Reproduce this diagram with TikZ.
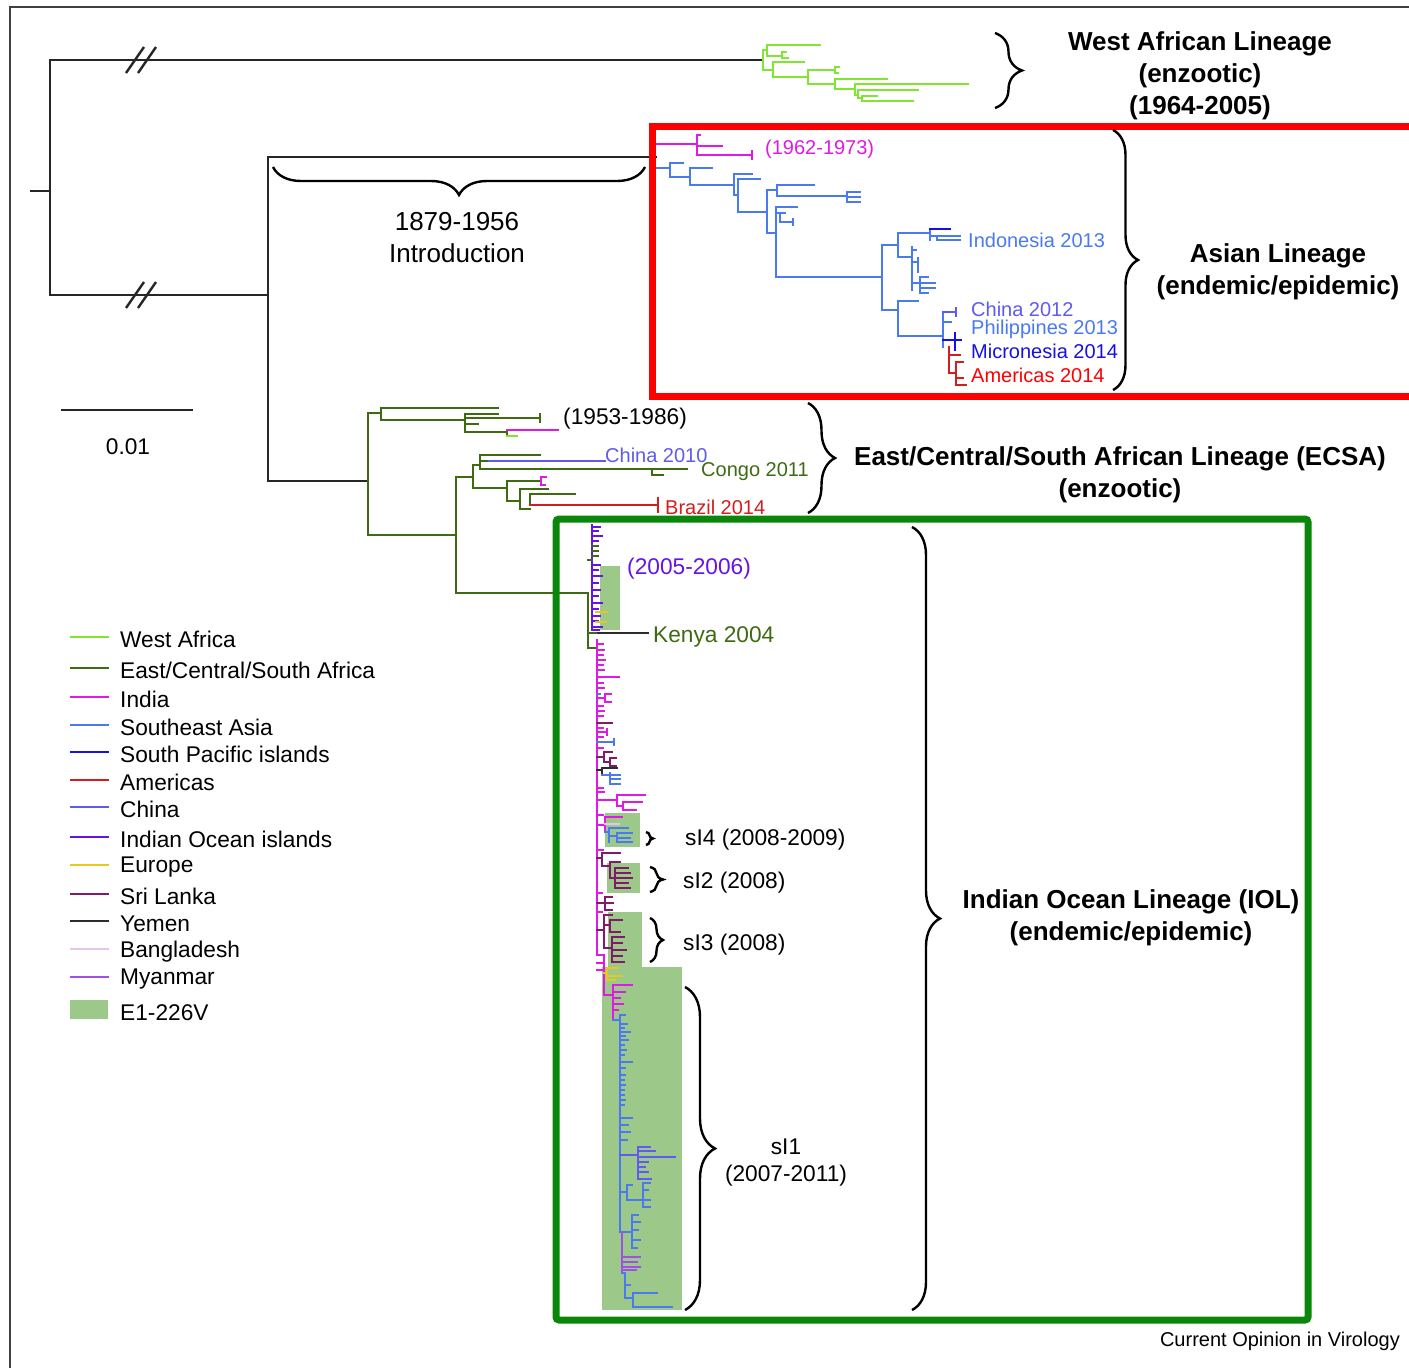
\documentclass[tikz,border=0pt]{standalone}
\usepackage{fontspec}
\setmainfont{Liberation Sans}
\usetikzlibrary{decorations.pathreplacing}
\definecolor{cWA}{RGB}{128,230,50}
\definecolor{cEC}{RGB}{62,107,18}
\definecolor{cIN}{RGB}{225,25,230}
\definecolor{cSA}{RGB}{74,122,240}
\definecolor{cSP}{RGB}{20,16,230}
\definecolor{cAM}{RGB}{210,30,30}
\definecolor{cCH}{RGB}{95,90,240}
\definecolor{cIO}{RGB}{100,20,230}
\definecolor{cEU}{RGB}{230,200,30}
\definecolor{cSL}{RGB}{128,26,106}
\definecolor{cYE}{RGB}{45,45,45}
\definecolor{cBD}{RGB}{230,200,230}
\definecolor{cMY}{RGB}{160,80,230}
\definecolor{cE1}{RGB}{156,200,138}
\definecolor{cRB}{RGB}{255,0,0}
\definecolor{cGB}{RGB}{10,135,10}
\tikzset{
  tr/.style={line width=2.6pt,line cap=rect},
  blk/.style={tr,draw=black!85},
  brc/.style={decorate,decoration={brace,amplitude=#1},line width=2.4pt,black},
  lab/.style={inner sep=0pt,anchor=west,yshift=-2.5pt,font=\fontsize{20}{24}\selectfont},
  labL/.style={inner sep=0pt,anchor=west,yshift=-2.5pt,font=\fontsize{22.7}{27}\selectfont},
  ttl/.style={inner sep=0pt,align=center,yshift=-3pt,font=\bfseries\fontsize{26}{32}\selectfont},
  ttr/.style={inner sep=0pt,align=center,yshift=-2pt,font=\fontsize{26}{32}\selectfont},
  legline/.style={line width=2.2pt},
}
\begin{document}
\begin{tikzpicture}[x=1pt,y=-1pt]
\useasboundingbox (0,0) rectangle (1409,1368);
\fill[white] (0,0) rectangle (1409,1368);
% outer frame
\draw[line width=1.4pt,black!75] (10,1368) -- (10,7) -- (1409,7);

% E1-226V highlight boxes
\fill[cE1] (600,566) rectangle (620,630);
\fill[cE1] (605,813) rectangle (640,847);
\fill[cE1] (607,863) rectangle (640,893);
\fill[cE1] (608,912) rectangle (642,967);
\fill[cE1] (602,967) rectangle (682,1310);

% ---------- backbone (black)
\draw[blk] (31,191) -- (50,191);
\draw[blk] (763,60) -- (50,60) -- (50,295) -- (268,295);
\draw[blk] (656,157) -- (268,157) -- (268,481) -- (368,481);
% double slashes
\foreach \yy in {60,295}{
  \draw[line width=2.4pt,black!85] (126,\yy+13) -- (144,\yy-13);
  \draw[line width=2.4pt,black!85] (138,\yy+13) -- (156,\yy-13);
}
% scale bar
\draw[blk] (62,410) -- (192,410);
\node[labL,anchor=center] (scl) at (128,444) {0.01};

% ---------- West African lineage
\begin{scope}[tr,cWA]
\draw (763,50) -- (763,70);
\draw (763,50) -- (767,50); \draw (767,45) -- (767,56);
\draw (767,45) -- (820,45); \draw (767,56) -- (782,56);
\draw (782,52) -- (782,58); \draw (782,52) -- (786,52); \draw (782,58) -- (788,58);
\draw (763,70) -- (773,70); \draw (773,62) -- (773,77);
\draw (773,62) -- (804,62); \draw (773,77) -- (808,77);
\draw (808,70) -- (808,84); \draw (808,70) -- (835,70);
\draw (835,67) -- (835,73); \draw (835,67) -- (839,67); \draw (835,73) -- (838,73);
\draw (808,84) -- (835,84); \draw (835,79) -- (835,89);
\draw (835,79) -- (887,79); \draw (835,89) -- (855,89);
\draw (855,84) -- (855,95); \draw (855,84) -- (968,84);
\draw (855,95) -- (858,95); \draw (858,90) -- (858,98);
\draw (858,90) -- (918,90); \draw (858,98) -- (862,98);
\draw (862,96) -- (862,101); \draw (862,96) -- (877,96); \draw (862,101) -- (913,101);
\end{scope}

% ---------- Asian lineage
\begin{scope}[tr,cIN]
\draw (655,144) -- (697,144); \draw (697,135) -- (697,155);
\draw (697,135) -- (700,135);
\draw (697,146) -- (722,146); \draw (697,155) -- (752,155);
\draw (752,151) -- (752,159);
\end{scope}
\begin{scope}[tr,cSA]
\draw (655,168) -- (670,168); \draw (670,163) -- (670,177);
\draw (670,163) -- (683,163); \draw (670,177) -- (690,177);
\draw (690,168) -- (690,185); \draw (690,168) -- (712,168);
\draw (690,185) -- (734,185); \draw (734,174) -- (734,195);
\draw (734,174) -- (752,174); \draw (734,195) -- (738,195);
\draw (738,179) -- (738,212); \draw (738,179) -- (760,179);
\draw (738,212) -- (767,212); \draw (767,190) -- (767,233);
\draw (767,190) -- (777,190); \draw (777,185) -- (777,196);
\draw (777,185) -- (814,185); \draw (777,196) -- (847,196);
\draw (847,192) -- (847,202);
\draw (847,192) -- (860,192); \draw (847,197) -- (860,197); \draw (847,202) -- (860,202);
\draw (767,233) -- (776,233); \draw (776,207) -- (776,277);
\draw (776,207) -- (797,207); \draw (776,213) -- (780,213);
\draw (780,213) -- (780,222); \draw (780,213) -- (785,213);
\draw (780,222) -- (793,222); \draw (793,219) -- (793,225);
\draw (776,277) -- (882,277);
\draw (882,245) -- (882,310); \draw (882,245) -- (898,245);
\draw (898,233) -- (898,257); \draw (898,233) -- (930,233);
\draw (930,229) -- (930,240);
\draw (930,236) -- (937,236); \draw (937,236) -- (937,240);
\draw (937,236) -- (960,236); \draw (937,240) -- (960,240);
\draw (898,257) -- (912,257); \draw (912,247) -- (912,290);
\draw (912,250) -- (916,250); \draw (912,262) -- (918,262);
\draw (918,258) -- (918,272);
\draw (912,283) -- (920,283); \draw (920,277) -- (920,293);
\draw (920,277) -- (928,277); \draw (920,283) -- (935,283);
\draw (920,288) -- (935,288); \draw (920,293) -- (928,293);
\draw (882,310) -- (898,310); \draw (898,301) -- (898,336);
\draw (898,301) -- (918,301); \draw (898,336) -- (943,336);
\draw (943,312) -- (943,347);
\draw (943,322) -- (951,322);
\end{scope}
\begin{scope}[tr,cSP]
\draw (930,229) -- (950,229);
\draw (943,340) -- (955,340); \draw (955,333) -- (955,350); \draw (955,340) -- (961,340);
\end{scope}
\begin{scope}[tr,cCH]
\draw (943,312) -- (956,312); \draw (956,308) -- (956,316);
\end{scope}
\begin{scope}[tr,cAM]
\draw (949,347) -- (949,373); \draw (949,355) -- (960,355);
\draw (949,373) -- (956,373); \draw (956,362) -- (956,385);
\draw (956,362) -- (963,362); \draw (956,378) -- (963,378); \draw (956,385) -- (966,385);
\end{scope}

% ---------- ECSA lineage
\begin{scope}[tr,cEC]
\draw (368,413) -- (368,535);
\draw (368,413) -- (381,413); \draw (381,408) -- (381,420);
\draw (381,408) -- (498,408); \draw (381,420) -- (465,420);
\draw (465,414) -- (465,432); \draw (465,414) -- (498,414);
\draw (465,418) -- (540,418); \draw (540,414) -- (540,422);
\draw (465,424) -- (478,424); \draw (465,432) -- (507,432);
\draw (507,430) -- (507,436);
\draw (368,535) -- (456,535); \draw (456,477) -- (456,593);
\draw (456,477) -- (473,477); \draw (473,465) -- (473,488);
\draw (473,465) -- (480,465); \draw (480,455) -- (480,469);
\draw (480,455) -- (540,455); \draw (480,461) -- (489,461);
\draw (480,469) -- (687,469); \draw (652,469) -- (652,475); \draw (652,475) -- (663,475);
\draw (473,488) -- (507,488); \draw (507,481) -- (507,501);
\draw (507,481) -- (541,481);
\draw (507,501) -- (520,501); \draw (520,489) -- (520,509);
\draw (520,489) -- (548,489); \draw (520,509) -- (530,509);
\draw (530,494) -- (530,505); \draw (530,494) -- (575,494);
\draw (456,593) -- (588,593);
\end{scope}
\draw[tr,cIN] (507,430) -- (558,430);
\draw[tr,cWA] (507,436) -- (517,436);
\draw[tr,cCH] (489,461) -- (605,461);
\draw[tr,cIN] (541,477) -- (541,485) (541,477) -- (546,477) (541,485) -- (545,485);
\draw[tr,cAM] (530,505) -- (658,505) (658,498) -- (658,512);

% ---------- Indian Ocean lineage
% top (Indian Ocean islands)
\draw[tr,cIO] (592,525) -- (592,630);
\foreach \yy/\xx in {527/600,531/598,536/602,541/598,565/600,570/598,576/602,583/598,590/600,596/598,603/602,609/598,616/600,621/598,627/602,630/599}
  \draw[tr,cIO] (592,\yy) -- (\xx,\yy);
\foreach \yy in {546,551,556}
  \draw[tr,cEC] (592,\yy) -- (598,\yy);
\draw[tr,cEU] (596,612) -- (607,612) (596,622) -- (606,622);
\draw[tr,cEC] (588,593) -- (588,648) (588,633) -- (598,633) (588,648) -- (597,648);
\draw[tr,cEC] (588,560) -- (592,560);
\draw[tr,cYE] (598,633) -- (648,633);

% India main stem
\draw[tr,cIN] (597,640) -- (597,955) -- (604,955) -- (604,995) -- (613,995);
\foreach \yy/\xx in {644/603,650/604,655/603,660/605,665/603,670/604,677/619,683/603,688/604,706/603,711/604,716/603,728/603,737/603,748/603,788/603,792/604,815/603,850/603,893/602,912/602,963/603,970/602}
  \draw[tr,cIN] (597,\yy) -- (\xx,\yy);
\draw[tr,cIN] (597,698) -- (605,698) (605,694) -- (605,702) (605,694) -- (611,694) (605,702) -- (611,702);
\draw[tr,cSL] (597,723) -- (612,723);
\draw[tr,cIN] (597,732) -- (607,732) (607,729) -- (607,735);
\draw[tr,cSA] (597,742) -- (614,742) (614,739) -- (614,745);
\draw[tr,cSA] (598,694) -- (600,694);
\draw[tr,cSL] (597,757) -- (604,757) (604,752) -- (604,762) (604,752) -- (612,752) (604,762) -- (610,762) (610,758) -- (610,766) (610,758) -- (616,758) (610,766) -- (616,766);
\draw[tr,cYE] (597,770) -- (602,770) (602,768) -- (602,775) (602,768) -- (617,768);
\draw[tr,cSA] (602,775) -- (620,775) (610,773) -- (610,784) (610,779) -- (620,779) (610,784) -- (620,784);
% branch ~800
\draw[tr,cIN] (597,800) -- (617,800) (617,795) -- (617,806) (617,795) -- (645,795) (617,806) -- (623,806) (623,802) -- (623,810) (623,802) -- (642,802) (623,810) -- (636,810);
% sI4
\draw[tr,cIN] (597,825) -- (605,825) (605,817) -- (605,832) (605,817) -- (622,817);
\draw[tr,cBD] (605,824) -- (619,824);
\draw[tr,cSA] (605,832) -- (609,832) (609,828) -- (609,842) (609,828) -- (628,828) (609,836) -- (617,836) (617,833) -- (617,842) (617,833) -- (632,833) (617,838) -- (630,838) (617,842) -- (632,842);
% sI2
\draw[tr,cSL] (597,858) -- (602,858) (602,853) -- (602,866) (602,853) -- (620,853) (602,866) -- (610,866) (610,862) -- (610,878) (610,862) -- (620,862) (610,878) -- (615,878) (615,868) -- (615,888);
\foreach \yy/\xx in {868/628,873/630,878/632,883/628,888/630}
  \draw[tr,cSL] (615,\yy) -- (\xx,\yy);
\draw[tr,cSL] (597,903) -- (605,903) (605,897) -- (605,910) (605,897) -- (612,897) (605,903) -- (613,903) (605,910) -- (612,910);
% sI3
\draw[tr,cSL] (597,930) -- (604,930) (604,915) -- (604,948) (604,915) -- (612,915) (604,925) -- (610,925) (610,920) -- (610,932) (610,920) -- (622,920) (610,932) -- (620,932) (604,948) -- (612,948) (612,937) -- (612,962);
\foreach \yy/\xx in {937/624,943/622,950/626,956/622,962/624}
  \draw[tr,cSL] (612,\yy) -- (\xx,\yy);
% Europe near sI1
\draw[tr,cEU] (604,973) -- (607,973) (607,968) -- (607,980) (607,968) -- (618,968) (607,976) -- (622,976) (607,980) -- (615,980);
% India node sI1 top
\draw[tr,cIN] (613,985) -- (613,1020) (613,985) -- (632,985) (613,992) -- (625,992) (613,998) -- (620,998) (613,1004) -- (623,1004) (613,1010) -- (618,1010);
% Southeast Asia stem
\draw[tr,cSA] (613,1020) -- (620,1020) (620,1015) -- (620,1232);
\foreach \yy/\xx in {1015/625,1024/627,1028/624,1032/630,1036/625,1040/628,1045/624,1050/626,1055/624,1062/632,1068/625,1075/625,1080/624,1085/625,1090/624,1095/624,1100/625,1105/624,1118/632,1125/628,1132/630,1140/627}
  \draw[tr,cSA] (620,\yy) -- (\xx,\yy);
\draw[tr,cCH] (620,1155) -- (638,1155) (638,1147) -- (638,1179);
\foreach \yy/\xx in {1147/650,1151/655,1157/675,1162/648,1167/645,1172/648,1179/651}
  \draw[tr,cCH] (638,\yy) -- (\xx,\yy);
\draw[tr,cSA] (620,1192) -- (627,1192) (627,1185) -- (627,1200) (627,1185) -- (632,1185) (627,1200) -- (643,1200) (643,1183) -- (643,1207);
\foreach \yy/\xx in {1183/650,1190/648,1200/650,1207/650}
  \draw[tr,cSA] (643,\yy) -- (\xx,\yy);
\draw[tr,cSA] (620,1232) -- (632,1232) (632,1215) -- (632,1248);
\foreach \yy/\xx in {1215/638,1222/640,1230/638,1240/640,1248/637}
  \draw[tr,cSA] (632,\yy) -- (\xx,\yy);
\draw[tr,cMY] (622,1232) -- (622,1273);
\foreach \yy/\xx in {1257/640,1262/637,1267/640,1270/636}
  \draw[tr,cMY] (622,\yy) -- (\xx,\yy);
\draw[tr,cSA] (622,1273) -- (625,1273) (625,1273) -- (625,1298) (625,1285) -- (630,1285) (625,1298) -- (633,1298) (633,1293) -- (633,1307) (633,1293) -- (657,1293) (633,1307) -- (672,1307);

% ---------- lineage boxes
\draw[cRB,line width=7pt] (652,126) rectangle (1425,396);
\draw[cGB,line width=7pt,rounded corners=3pt] (556,519) rectangle (1308,1320);

% ---------- braces
\draw[brc=27pt] (995,33) -- (995,108);
\draw[brc=25pt] (1113,130) -- (1113,390);
\draw[brc=27pt] (808,403) -- (808,513);
\draw[brc=28pt] (912,527) -- (912,1310);
\draw[brc=28pt] (645,167) -- (273,167);
\draw[brc=7pt] (646,832) -- (646,845);
\draw[brc=13pt] (650,867) -- (650,892);
\draw[brc=13pt] (650,918) -- (650,962);
\draw[brc=30pt] (685,987) -- (685,1310);

% ---------- labels
\node[ttl] (twa) at (1200,73) {West African Lineage\\(enzootic)\\(1964-2005)};
\node[ttl] (tas) at (1278,269) {Asian Lineage\\(endemic/epidemic)};
\node[ttl] (tec) at (1120,471.5) {East/Central/South African Lineage (ECSA)\\(enzootic)};
\node[ttl] (tio) at (1131,915) {Indian Ocean Lineage (IOL)\\(endemic/epidemic)};
\node[ttr] (intro) at (457,236) {1879-1956\\Introduction};

\node[lab,text=cIN] (l62) at (765,147) {(1962-1973)};
\node[lab,text=cSA] (lind) at (968,238) {Indonesia 2013};
\node[lab,text=cCH] (lch12) at (971,307) {China 2012};
\node[lab,text=cSA] (lphi) at (971,327) {Philippines 2013};
\node[lab,text=cSP] (lmic) at (971,349) {Micronesia 2014};
\node[lab,text=cRB] (lam) at (971,373) {Americas 2014};
\node[labL] (l53) at (563,416) {(1953-1986)};
\node[lab,text=cCH] (lch10) at (605,453) {China 2010};
\node[lab,text=cEC] (lcon) at (701,469) {Congo 2011};
\node[lab,text=cAM] (lbra) at (665,505) {Brazil 2014};
\node[labL,text=cIO] (l05) at (627,566) {(2005-2006)};
\node[labL,text=cEC] (lken) at (653,634) {Kenya 2004};
\node[labL] (ls4) at (685,837) {sI4 (2008-2009)};
\node[labL] (ls2) at (683,880) {sI2 (2008)};
\node[labL] (ls3) at (683,942) {sI3 (2008)};
\node[labL,anchor=center,align=center] (ls1) at (786,1160.5) {sI1\\(2007-2011)};
\node[lab,anchor=east] (cov) at (1400,1339) {Current Opinion in Virology};

% ---------- legend
\foreach \yy/\cc/\tt [count=\i] in {637/cWA/West Africa,668/cEC/East\slash Central\slash South Africa,697/cIN/India,725/cSA/Southeast Asia,752/cSP/South Pacific islands,780/cAM/Americas,807/cCH/China,837/cIO/Indian Ocean islands,865/cEU/Europe,894/cSL/Sri Lanka,921/cYE/Yemen,949/cBD/Bangladesh,977/cMY/Myanmar}{
  \draw[legline,\cc] (70,\yy) -- (109,\yy);
  \node[labL] (leg\i) at (120,\yy) {\tt};
}
\fill[cE1] (70,1000) rectangle (108,1019);
\node[labL] (legE) at (120,1010) {E1-226V};
\end{tikzpicture}
\end{document}
